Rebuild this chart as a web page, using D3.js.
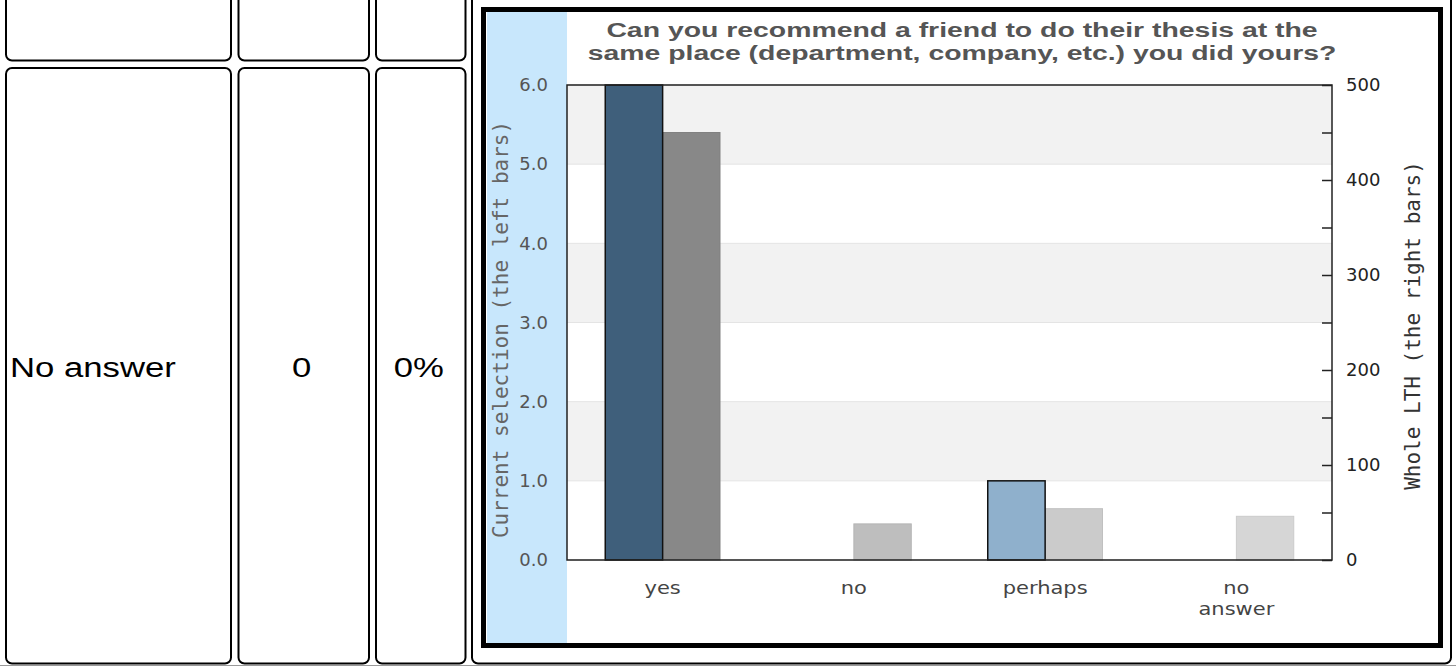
<!DOCTYPE html>
<html>
<head>
<meta charset="utf-8">
<script src="https://cdn.jsdelivr.net/npm/d3@7"></script>
<style>
  html, body { margin: 0; padding: 0; background: #fff; }
  svg { display: block; }
</style>
</head>
<body>
<script>
// ---------------- DATA ----------------
var categories = ['yes', 'no', 'perhaps', 'no answer']
var currentSelection = [6, 0, 1, 0]        // left bars, left axis
var wholeLTH = [450, 38, 54, 46]           // right bars, right axis
var leftTicks = [0, 1, 2, 3, 4, 5, 6]
var rightTicks = [0, 100, 200, 300, 400, 500]
var rightMinorTicks = [0, 50, 100, 150, 200, 250, 300, 350, 400, 450, 500]
var leftColors = ['#3f5f7b', '#3f5f7b', '#8fb0cc', '#8fb0cc']
var rightColors = ['#888888', '#bebebe', '#cbcbcb', '#d6d6d6']
var titleLines = ['Can you recommend a friend to do their thesis at the',
                  'same place (department, company, etc.) you did yours?']
var tableRow = ['No answer', '0', '0%']

// ---------------- SVG ----------------
var width = 1456
var height = 666

var svg = d3.select('body')
    .append('svg')
    .attr('width', width)
    .attr('height', height)

// ---------------- TABLE CELLS (left of the chart) ----------------
var cols = [{x0: 6, x1: 231}, {x0: 238.5, x1: 369}, {x0: 376, x1: 465.5}]

cols.forEach(function(c) {
    // top row, mostly scrolled off
    svg.append('rect')
        .attr('x', c.x0).attr('y', -20)
        .attr('width', c.x1 - c.x0).attr('height', 80.5)
        .attr('rx', 6)
        .attr('fill', 'none').attr('stroke', '#000').attr('stroke-width', 2)
    svg.append('rect')
        .attr('x', c.x0).attr('y', 68)
        .attr('width', c.x1 - c.x0).attr('height', 595.5)
        .attr('rx', 6)
        .attr('fill', 'none').attr('stroke', '#000').attr('stroke-width', 2)
})

// chart cell
svg.append('rect')
    .attr('x', 472).attr('y', -20)
    .attr('width', 1451 - 472).attr('height', 683.5)
    .attr('rx', 6)
    .attr('fill', 'none').attr('stroke', '#000').attr('stroke-width', 2)

svg.append('line')
    .attr('x1', 0).attr('x2', width)
    .attr('y1', 665.5).attr('y2', 665.5)
    .attr('stroke', '#999').attr('stroke-width', 1)

// the screenshot is a bit wider than tall, so text is stretched sideways
svg.selectAll('text.cell')
    .data(tableRow)
    .enter()
    .append('text')
    .attr('class', 'cell')
    .attr('transform', function(d, i) {
        var cx = i === 0 ? 10 : (cols[i].x0 + cols[i].x1) / 2 - 2
        return 'translate(' + cx + ',377) scale(1.24,1)'
    })
    .attr('text-anchor', function(d, i) { return i === 0 ? 'start' : 'middle' })
    .style('font-family', '"Liberation Sans", Arial, sans-serif')
    .style('font-size', '28px')
    .attr('fill', '#000')
    .text(function(d) { return d })

// ---------------- CHART FRAME ----------------
svg.append('rect')
    .attr('x', 483.5).attr('y', 9.5)
    .attr('width', 1440.5 - 483.5).attr('height', 645.5 - 9.5)
    .attr('fill', '#fff').attr('stroke', '#000').attr('stroke-width', 5)

svg.append('rect')
    .attr('x', 487).attr('y', 12)
    .attr('width', 80).attr('height', 631)
    .attr('fill', '#c8e7fc')

// ---------------- SCALES ----------------
var plot = {left: 567, right: 1332, top: 85, bottom: 560}

var x = d3.scaleBand()
    .domain(categories)
    .range([plot.left, plot.right])

var yLeft = d3.scaleLinear().domain([0, 6]).range([plot.bottom, plot.top])
var yRight = d3.scaleLinear().domain([0, 500]).range([plot.bottom, plot.top])

var barW = x.bandwidth() * 0.3

// background bands and grid
svg.append('g')
    .selectAll('rect')
    .data(leftTicks.slice(0, -1))
    .enter()
    .append('rect')
    .attr('x', plot.left)
    .attr('width', plot.right - plot.left)
    .attr('y', function(d) { return yLeft(d + 1) })
    .attr('height', function(d) { return yLeft(d) - yLeft(d + 1) })
    .attr('fill', function(d) { return d % 2 === 1 ? '#f2f2f2' : '#fff' })

svg.append('g')
    .selectAll('line')
    .data(leftTicks)
    .enter()
    .append('line')
    .attr('x1', plot.left).attr('x2', plot.right)
    .attr('y1', function(d) { return yLeft(d) })
    .attr('y2', function(d) { return yLeft(d) })
    .attr('stroke', '#e4e4e4').attr('stroke-width', 1)

// ---------------- BARS ----------------
var rightBars = categories.map(function(c, i) {
    return {cat: c, value: wholeLTH[i], color: rightColors[i]}
})
var leftBars = categories.map(function(c, i) {
    return {cat: c, value: currentSelection[i], color: leftColors[i]}
}).filter(function(d) { return d.value > 0 })

svg.append('g')
    .selectAll('rect')
    .data(rightBars)
    .enter()
    .append('rect')
    .attr('x', function(d) { return x(d.cat) + x.bandwidth() / 2 })
    .attr('width', barW)
    .attr('y', function(d) { return yRight(d.value) })
    .attr('height', function(d) { return yRight(0) - yRight(d.value) })
    .attr('fill', function(d) { return d.color })
    .attr('stroke', function(d) { return d3.color(d.color).darker(0.15) })
    .attr('stroke-width', 1)

svg.append('g')
    .selectAll('rect')
    .data(leftBars)
    .enter()
    .append('rect')
    .attr('x', function(d) { return x(d.cat) + x.bandwidth() / 2 - barW })
    .attr('width', barW)
    .attr('y', function(d) { return yLeft(d.value) })
    .attr('height', function(d) { return yLeft(0) - yLeft(d.value) })
    .attr('fill', function(d) { return d.color })
    .attr('stroke', '#111')
    .attr('stroke-width', 1.5)

// ---------------- AXES ----------------
var leftAxis = d3.axisLeft(yLeft)
    .tickValues(leftTicks)
    .tickFormat(d3.format('.1f'))
    .tickSize(0)
    .tickPadding(19)

var gLeft = svg.append('g')
    .attr('transform', 'translate(' + plot.left + ',0)')
    .call(leftAxis)
gLeft.select('.domain').remove()
gLeft.selectAll('text')
    .style('font-family', '"DejaVu Sans", sans-serif')
    .style('font-size', '18px')
    .attr('fill', '#555')

// minor + major ticks pointing inwards on the right
var rightAxisTicks = d3.axisLeft(yRight)
    .tickValues(rightMinorTicks)
    .tickSize(10)
    .tickFormat('')

var gRightTicks = svg.append('g')
    .attr('transform', 'translate(' + plot.right + ',0)')
    .call(rightAxisTicks)
gRightTicks.select('.domain').remove()
gRightTicks.selectAll('line').attr('stroke', '#222').attr('stroke-width', 1.5)

var rightAxis = d3.axisRight(yRight)
    .tickValues(rightTicks)
    .tickSize(0)
    .tickPadding(14)

var gRight = svg.append('g')
    .attr('transform', 'translate(' + plot.right + ',0)')
    .call(rightAxis)
gRight.select('.domain').remove()
gRight.selectAll('text')
    .style('font-family', '"DejaVu Sans", sans-serif')
    .style('font-size', '18px')
    .attr('fill', '#222')

// plot border
svg.append('rect')
    .attr('x', plot.left).attr('y', plot.top)
    .attr('width', plot.right - plot.left)
    .attr('height', plot.bottom - plot.top)
    .attr('fill', 'none')
    .attr('stroke', '#222')
    .attr('stroke-width', 1.5)

// x labels
var xLabels = svg.append('g')
    .selectAll('text')
    .data(categories)
    .enter()
    .append('text')
    .attr('transform', function(d) {
        return 'translate(' + (x(d) + x.bandwidth() / 2) + ',594) scale(1.2,1)'
    })
    .attr('text-anchor', 'middle')
    .style('font-family', '"DejaVu Sans", sans-serif')
    .style('font-size', '17.5px')
    .attr('fill', '#444')

xLabels.each(function(d) {
    var t = d3.select(this)
    d.split(' ').forEach(function(w, k) {
        t.append('tspan')
            .attr('x', 0)
            .attr('y', k * 21)
            .text(w)
    })
})

// axis titles
svg.append('text')
    .attr('transform', 'translate(508,' + ((plot.top + plot.bottom) / 2 + 7) + ') rotate(-90)')
    .attr('text-anchor', 'middle')
    .style('font-family', '"DejaVu Sans Mono", monospace')
    .style('font-size', '21px')
    .attr('fill', '#666')
    .text('Current selection (the left bars)')

svg.append('text')
    .attr('transform', 'translate(1420,' + ((plot.top + plot.bottom) / 2 + 3) + ') rotate(-90)')
    .attr('text-anchor', 'middle')
    .style('font-family', '"DejaVu Sans Mono", monospace')
    .style('font-size', '21px')
    .attr('fill', '#333')
    .text('Whole LTH (the right bars)')

// title
svg.append('g')
    .selectAll('text')
    .data(titleLines)
    .enter()
    .append('text')
    .attr('transform', function(d, i) {
        return 'translate(962,' + (37 + i * 22.5) + ') scale(1.42,1)'
    })
    .attr('text-anchor', 'middle')
    .style('font-family', '"Liberation Sans", Arial, sans-serif')
    .style('font-weight', 'bold')
    .style('font-size', '20px')
    .attr('fill', '#555')
    .text(function(d) { return d })
</script>
</body>
</html>
